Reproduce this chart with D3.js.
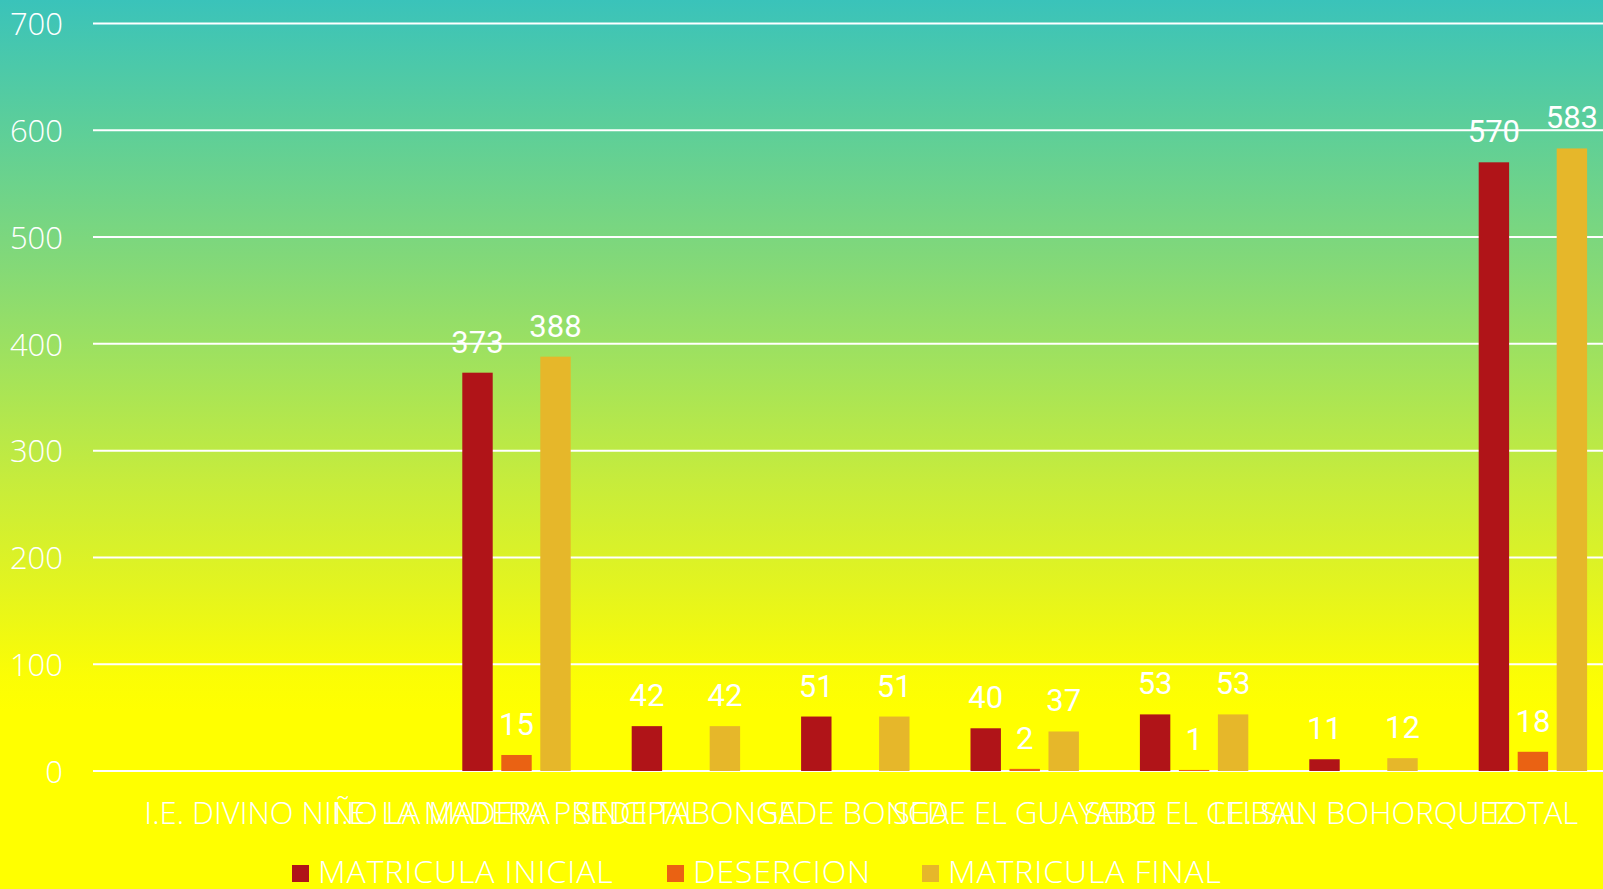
<!DOCTYPE html>
<html>
<head>
<meta charset="utf-8">
<script src="https://cdn.jsdelivr.net/npm/d3@7"></script>
<style>
  html, body { margin: 0; padding: 0; overflow: hidden; }
  svg { display: block; }
</style>
</head>
<body>
<svg id="chart" width="1603" height="889"></svg>
<script>
const categories = ["", "I.E. DIVINO NIÑO LA MADERA", "I.E. LA MADERA PRINCIPAL", "SEDE TABONGA", "SEDE BONGA", "SEDE EL GUAYABO", "SEDE EL CEIBAL", "I.E. SAN BOHORQUEZ", "TOTAL"];
const seriesNames = ["MATRICULA INICIAL", "DESERCION", "MATRICULA FINAL"];
const matriculaInicial = [null, null, 373, 42, 51, 40, 53, 11, 570];
const desercion = [null, null, 15, null, null, 2, 1, null, 18];
const matriculaFinal = [null, null, 388, 42, 51, 37, 53, 12, 583];
const yTicks = [0, 100, 200, 300, 400, 500, 600, 700];
const colors = ["#B01418", "#EA6213", "#E6B72A"];

const W = 1603, H = 889;
const svg = d3.select("#chart");
const defs = svg.append("defs");
const grad = defs.append("linearGradient").attr("id", "bg").attr("x1", 0).attr("y1", 0).attr("x2", 0).attr("y2", 1);
[[0, "#3AC3BA"], [0.15, "#5ECF98"], [0.3, "#84D977"], [0.42, "#A4E35A"], [0.54, "#C6EC3C"], [0.66, "#E3F41F"], [0.76, "#FBFD05"], [0.8, "#FFFF00"], [1, "#FFFF00"]]
  .forEach(([o, c]) => grad.append("stop").attr("offset", o).attr("stop-color", c));
svg.append("rect").attr("width", W).attr("height", H).attr("fill", "url(#bg)");

const left = 93, right = 93 + 9 * 169.4;
const x0 = d3.scaleBand().domain(categories.map((d, i) => i)).range([left, right]).paddingInner(0.36).paddingOuter(0.18);
const x1 = d3.scaleBand().domain([0, 1, 2]).range([0, x0.bandwidth()]).paddingInner(0.22);
const y = d3.scaleLinear().domain([0, 700]).range([771, 23.5]);

const font = "'Open Sans', 'Lato', sans-serif";

// gridlines
svg.append("g").selectAll("line").data(yTicks).join("line")
  .attr("x1", left).attr("x2", W)
  .attr("y1", d => y(d)).attr("y2", d => y(d))
  .attr("stroke", "#FFFFFF").attr("stroke-width", 2);

// y axis labels
const yAxis = d3.axisLeft(y).tickValues(yTicks).tickSize(0).tickPadding(0);
const gy = svg.append("g").attr("transform", "translate(63,0)").call(yAxis);
gy.select(".domain").remove();
gy.selectAll("text").attr("fill", "#FFFFFF").attr("font-family", font).attr("font-weight", 300).attr("font-size", 31).attr("dy", "0.36em");

// x axis labels
const xAxis = d3.axisBottom(x0).tickFormat(i => categories[i]).tickSize(0).tickPadding(0);
const gx = svg.append("g").attr("transform", "translate(0,824)").call(xAxis);
gx.select(".domain").remove();
gx.selectAll("text").attr("fill", "#FFFFFF").attr("font-family", font).attr("font-weight", 300).attr("font-size", 31).attr("dy", "0");

const series = [matriculaInicial, desercion, matriculaFinal];
const rows = [];
series.forEach((vals, s) => vals.forEach((v, i) => { if (v !== null) rows.push({ s, i, v }); }));

svg.append("g").selectAll("rect").data(rows).join("rect")
  .attr("x", d => x0(d.i) + x1(d.s))
  .attr("width", x1.bandwidth())
  .attr("y", d => y(d.v))
  .attr("height", d => y(0) - y(d.v))
  .attr("fill", d => colors[d.s]);

svg.append("g").selectAll("text").data(rows).join("text")
  .attr("x", d => x0(d.i) + x1(d.s) + x1.bandwidth() / 2)
  .attr("y", d => y(d.v) - 20)
  .attr("text-anchor", "middle")
  .attr("fill", "#FFFFFF")
  .attr("font-family", "'Liberation Sans Narrow', 'Roboto', sans-serif")
  .attr("font-size", 31)
  .text(d => d.v);

// legend
const legendX = [292, 667, 922];
const lg = svg.append("g");
seriesNames.forEach((name, s) => {
  lg.append("rect").attr("x", legendX[s]).attr("y", 865).attr("width", 17).attr("height", 17).attr("fill", colors[s]);
  lg.append("text").attr("x", legendX[s] + 26).attr("y", 883).attr("fill", "#FFFFFF")
    .attr("font-family", font).attr("font-weight", 300).attr("font-size", 32)
    .attr("letter-spacing", 0.9).text(name);
});
</script>
</body>
</html>
